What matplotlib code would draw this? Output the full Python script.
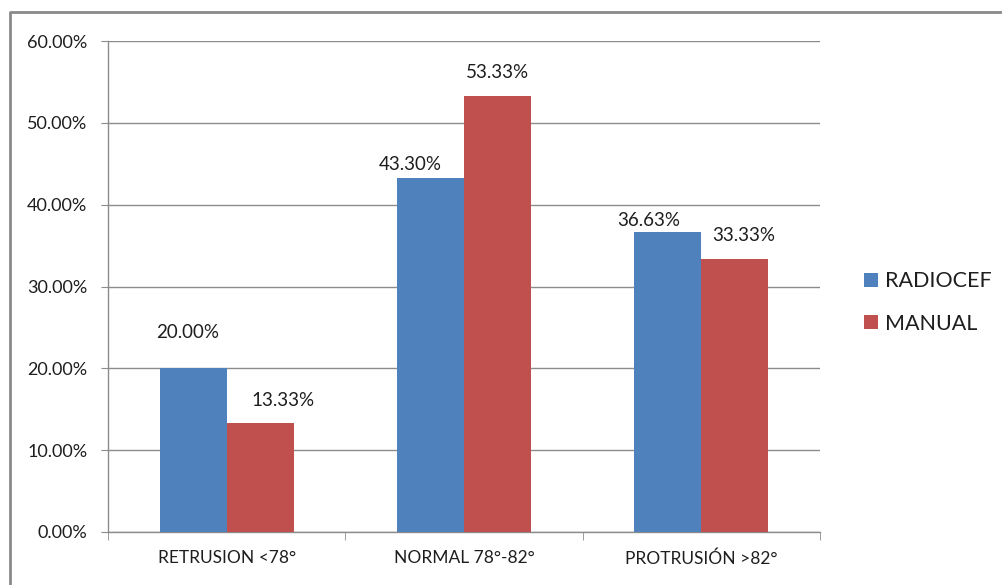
import matplotlib.pyplot as plt
import numpy as np
from matplotlib.lines import Line2D
from matplotlib.ticker import FuncFormatter, FixedLocator

categories = ["RETRUSION <78°", "NORMAL 78°-82°", "PROTRUSIÓN >82°"]
radiocef = [20.00, 43.30, 36.63]
manual = [13.33, 53.33, 33.33]
series_names = ["RADIOCEF", "MANUAL"]

BLUE = "#4F81BD"
RED = "#C0504D"
GRID = "#8C8C8C"
TEXT = "#1E1E1E"

# hand-placed label nudges (pixels) for each series, per category
RADIOCEF_LABEL_OFFSETS = [(-6, 36), (-20, 13), (-19, 12)]
MANUAL_LABEL_OFFSETS = [(23, 22), (0, 23), (9, 24)]

plt.rcParams["font.family"] = ["Lato", "DejaVu Sans"]

fig = plt.figure(figsize=(10.03, 5.85), dpi=100)
ax = fig.add_axes([108 / 1003, 1 - 532 / 585, (820 - 108) / 1003, (532 - 41) / 585])

x = np.arange(len(categories))
width = 0.282
bars_a = ax.bar(x - width / 2, radiocef, width, color=BLUE, label=series_names[0], zorder=3)
bars_b = ax.bar(x + width / 2, manual, width, color=RED, label=series_names[1], zorder=3)

for bars, values, offsets in ((bars_a, radiocef, RADIOCEF_LABEL_OFFSETS),
                              (bars_b, manual, MANUAL_LABEL_OFFSETS)):
    for rect, val, (dx, dy) in zip(bars, values, offsets):
        ax.annotate("{0:.2f}%".format(val),
                    xy=(rect.get_x() + rect.get_width() / 2, val),
                    xytext=(dx, dy), textcoords="offset pixels",
                    ha="center", va="center", fontsize=13.5, color=TEXT)

ax.set_xlim(-0.5, len(categories) - 0.5)
ax.set_ylim(0, 60)
ax.yaxis.set_major_locator(FixedLocator(np.arange(0, 61, 10)))
ax.yaxis.set_major_formatter(FuncFormatter(lambda v, _: "{0:.2f}%".format(v)))
ax.grid(axis="y", color=GRID, linewidth=1, zorder=0)

ax.set_xticks(x)
ax.set_xticklabels(categories)
ax.xaxis.set_minor_locator(FixedLocator(np.arange(-0.5, len(categories), 1)))
ax.tick_params(axis="x", which="major", length=0, pad=13, labelsize=12.5, labelcolor=TEXT)
ax.tick_params(axis="x", which="minor", length=6, color=GRID, direction="out")
ax.tick_params(axis="y", length=5, color=GRID, pad=10, labelsize=13, labelcolor=TEXT)

for side in ("top", "right"):
    ax.spines[side].set_visible(False)
for side in ("left", "bottom"):
    ax.spines[side].set_color(GRID)
    ax.spines[side].set_linewidth(1)

ax.legend(loc="center left", bbox_to_anchor=(1.035, 0.467), frameon=False,
          fontsize=15.5, handlelength=0.62, handleheight=0.62,
          handletextpad=0.35, labelspacing=1.05, labelcolor=TEXT)

# outer chart border (only top and left edges fall inside the image)
fig.add_artist(Line2D([10 / 1003, 10 / 1003, 1.0], [0.0, 1 - 12 / 585, 1 - 12 / 585],
                      transform=fig.transFigure, color="#8A8A8A", linewidth=2))

fig.savefig("out.png", dpi=100, facecolor="white")
